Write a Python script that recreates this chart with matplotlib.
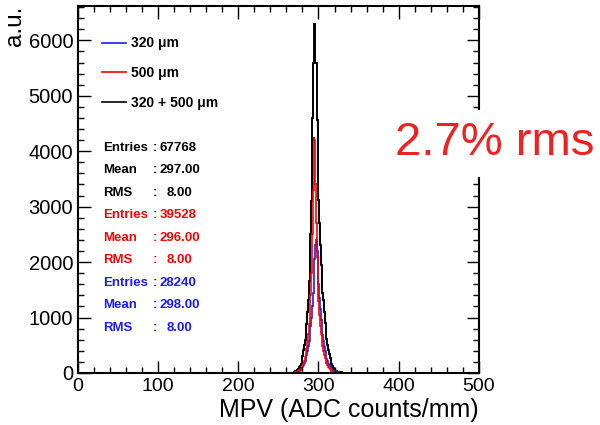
import numpy as np
import matplotlib.pyplot as plt
from matplotlib.ticker import MultipleLocator

plt.rcParams['font.family'] = ['Liberation Sans', 'DejaVu Sans']

# bins of 1 ADC count/mm, values for 270..329
bin_start = 270
red_500 = [10, 14, 18, 24, 30, 38, 48, 60, 78, 100,
           130, 170, 220, 280, 350, 440, 560, 700, 880, 1100,
           1400, 1800, 2500, 3300, 4260, 4200, 3400, 2700, 2100, 1650,
           1300, 1050, 850, 700, 580, 480, 400, 330, 270, 220,
           180, 145, 115, 90, 70, 55, 42, 33, 26, 20,
           16, 12, 10, 8, 6, 5, 4, 3, 2, 2]
blue_320 = [8, 12, 15, 20, 25, 30, 40, 50, 65, 85,
            110, 140, 180, 220, 270, 330, 400, 480, 580, 700,
            850, 1000, 1200, 1450, 1750, 2050, 2300, 2400, 2200, 1900,
            1600, 1350, 1150, 950, 800, 680, 570, 470, 390, 320,
            260, 210, 170, 135, 105, 80, 62, 48, 38, 30,
            24, 19, 15, 12, 10, 8, 6, 5, 4, 3]
black_sum = [20, 30, 40, 50, 65, 80, 100, 130, 170, 230,
             310, 415, 500, 600, 720, 880, 1100, 1320, 1650, 2050,
             2500, 3100, 4600, 5600, 6300, 6300, 5600, 5600, 4570, 3970,
             3120, 2700, 2300, 1950, 1650, 1450, 1320, 1100, 900, 750,
             620, 500, 415, 340, 270, 210, 160, 120, 90, 70,
             50, 40, 32, 26, 20, 16, 13, 11, 9, 7]

stats = [
    ('Entries', '67768', 'black'), ('Mean', '297.00', 'black'), ('RMS', '8.00', 'black'),
    ('Entries', '39528', 'red'), ('Mean', '296.00', 'red'), ('RMS', '8.00', 'red'),
    ('Entries', '28240', '#1a1aff'), ('Mean', '298.00', '#1a1aff'), ('RMS', '8.00', '#1a1aff'),
]


def full_hist(vals):
    h = np.zeros(500)
    h[bin_start:bin_start + len(vals)] = vals
    return h


edges = np.arange(0, 501)

fig = plt.figure(figsize=(6, 4.25), dpi=100)
ax = fig.add_axes([0.13, 0.1224, 0.668, 0.8636])

ax.stairs(full_hist(black_sum), edges, color='black', lw=1.4, label='320 + 500 μm')
ax.stairs(full_hist(blue_320), edges, color='#1a1aff', lw=1.2, label='320 μm')
ax.stairs(full_hist(red_500), edges, color='red', lw=1.2, label='500 μm')

ax.set_xlim(0, 500)
ax.set_ylim(0, 6620)
ax.xaxis.set_major_locator(MultipleLocator(100))
ax.xaxis.set_minor_locator(MultipleLocator(20))
ax.yaxis.set_major_locator(MultipleLocator(1000))
ax.yaxis.set_minor_locator(MultipleLocator(200))
ax.tick_params(which='both', direction='in', top=True, right=True, width=1)
ax.tick_params(axis='y', labelsize=14.5)
ax.tick_params(axis='x', labelsize=14)
ax.tick_params(which='major', length=9)
ax.tick_params(which='minor', length=4.5)
for s in ax.spines.values():
    s.set_linewidth(1.5)

ax.set_xlabel('MPV (ADC counts/mm)', fontsize=18, loc='right', labelpad=2)
ax.set_ylabel('a.u.', fontsize=17.5, loc='top', labelpad=2)

handles, labels = ax.get_legend_handles_labels()
order = [1, 2, 0]
leg = ax.legend([handles[i] for i in order], [labels[i] for i in order],
                loc='upper left', bbox_to_anchor=(0.06, 0.917), frameon=False,
                borderaxespad=0, borderpad=0, handlelength=1.75, handletextpad=0.35,
                labelspacing=1.12, prop={'weight': 'bold', 'size': 10})
for h in leg.get_lines():
    h.set_linewidth(1.2)

y0 = 0.613
dy = 0.0612
for i, (name, val, col) in enumerate(stats):
    y = y0 - i * dy
    ax.text(0.062, y, name, transform=ax.transAxes, color=col, fontsize=9.5,
            fontweight='bold', va='center')
    ax.text(0.187, y, ':', transform=ax.transAxes, color=col, fontsize=9.5,
            fontweight='bold', va='center')
    xv = 0.22 if name == 'RMS' else 0.203
    ax.text(xv, y, val, transform=ax.transAxes, color=col, fontsize=9.5,
            fontweight='bold', va='center')

fig.text(0.825, 0.663, '2.7% rms', color='#ee2222', fontsize=34, ha='center', va='center',
         bbox=dict(facecolor='white', edgecolor='none', pad=8))

fig.savefig('out.png', dpi=100)
